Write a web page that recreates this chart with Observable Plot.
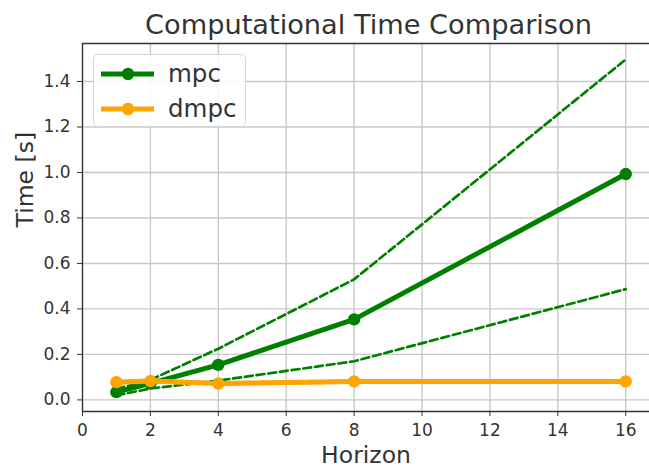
<!DOCTYPE html>
<html>
<head>
<meta charset="utf-8">
<script src="https://cdn.jsdelivr.net/npm/d3@7"></script>
<script src="https://cdn.jsdelivr.net/npm/@observablehq/plot@0.6"></script>
<style>
  html, body { margin: 0; padding: 0; background: #fff; }
  #chart { position: relative; width: 649px; height: 468px; overflow: hidden; font-family: "DejaVu Sans", sans-serif; }
  #legend {
    position: absolute; left: 93px; top: 54px; width: 153px; height: 73px;
    box-sizing: border-box; border: 1px solid #d6d6d6; border-radius: 5px;
    background: rgba(255,255,255,0.85);
  }
  #legend svg { position: absolute; left: 0; top: 0; }
</style>
</head>
<body>
<div id="chart"></div>
<script>
// Prediction horizon (steps) and mean solve time per horizon, with ±1 std bands
const horizon = [1, 2, 4, 8, 16];
const mpcMean  = [0.034, 0.073, 0.154, 0.354, 0.993];
const mpcUpper = [0.048, 0.088, 0.225, 0.530, 1.497];
const mpcLower = [0.020, 0.050, 0.085, 0.170, 0.487];
const dmpcMean  = [0.078, 0.083, 0.072, 0.081, 0.081];
const dmpcUpper = [0.082, 0.087, 0.076, 0.085, 0.085];
const dmpcLower = [0.074, 0.079, 0.068, 0.077, 0.077];

const xTicks = [0, 2, 4, 6, 8, 10, 12, 14, 16];
const yTicks = [0, 0.2, 0.4, 0.6, 0.8, 1.0, 1.2, 1.4];
const xDomain = [0, 16.7];
const yDomain = [-0.051, 1.567];

const seriesNames = ["mpc", "dmpc"];
const colors = {mpc: "green", dmpc: "orange"};

// long-format table: one row per (series, band, horizon)
function rows(name, band, values) {
  return horizon.map((h, i) => ({series: name, band, h, t: values[i]}));
}
const table = [
  ...rows("mpc", "mean", mpcMean), ...rows("mpc", "upper", mpcUpper), ...rows("mpc", "lower", mpcLower),
  ...rows("dmpc", "mean", dmpcMean), ...rows("dmpc", "upper", dmpcUpper), ...rows("dmpc", "lower", dmpcLower)
];
const pick = (s, b) => table.filter(d => d.series === s && d.band === b);

const ink = "#333333";
const marks = [
  Plot.gridX(xTicks, {stroke: "#c8c8c8", strokeOpacity: 1, strokeWidth: 1.4}),
  Plot.gridY(yTicks, {stroke: "#c8c8c8", strokeOpacity: 1, strokeWidth: 1.4}),
];
for (const s of seriesNames) {
  const c = colors[s];
  const dashed = {x: "h", y: "t", stroke: c, strokeWidth: 2.7, strokeDasharray: "8,3.8"};
  if (s === "mpc") {
    marks.push(Plot.line(pick(s, "upper"), dashed), Plot.line(pick(s, "lower"), dashed));
    marks.push(Plot.line(pick(s, "mean"), {x: "h", y: "t", stroke: c, strokeWidth: 5}));
  } else {
    marks.push(Plot.line(pick(s, "mean"), {x: "h", y: "t", stroke: c, strokeWidth: 5}));
    marks.push(Plot.line(pick(s, "upper"), dashed), Plot.line(pick(s, "lower"), dashed));
  }
  marks.push(Plot.dot(pick(s, "mean"), {x: "h", y: "t", r: 6.2, fill: c, stroke: "none"}));
}
marks.push(
  // spines: left, bottom, top
  Plot.ruleX([xDomain[0]], {stroke: ink, strokeWidth: 1.3}),
  Plot.ruleY([yDomain[0]], {stroke: ink, strokeWidth: 1.3}),
  Plot.ruleY([yDomain[1]], {stroke: ink, strokeWidth: 1.3}),
  Plot.axisX(xTicks, {tickSize: 5, tickPadding: 7, fontSize: 17, stroke: ink, fill: ink, label: null, tickFormat: d => String(d)}),
  Plot.axisY(yTicks, {tickSize: 5, tickPadding: 7, fontSize: 17, stroke: ink, fill: ink, label: null, tickFormat: d3.format(".1f")}),
  Plot.text(["Horizon"], {frameAnchor: "bottom", dy: 51, lineAnchor: "bottom", fontSize: 23.5, fill: ink}),
  Plot.text(["Time [s]"], {frameAnchor: "left", dx: -57, rotate: -90, lineAnchor: "middle", fontSize: 23.5, fill: ink}),
  Plot.text(["Computational Time Comparison"], {frameAnchor: "top", dx: 2.5, dy: -10, lineAnchor: "bottom", fontSize: 27.2, fill: ink})
);

const chart = Plot.plot({
  width: 649,
  height: 468,
  marginLeft: 82,
  marginRight: 0,
  marginTop: 43,
  marginBottom: 57,
  x: {domain: xDomain, axis: null},
  y: {domain: yDomain, axis: null},
  style: {fontFamily: "DejaVu Sans, sans-serif", color: ink, background: "#fff", overflow: "visible"},
  marks
});
const root = document.getElementById("chart");
root.appendChild(chart);

// legend box inside the plot area
const legend = document.createElement("div");
legend.id = "legend";
const ls = d3.create("svg").attr("width", 153).attr("height", 73);
seriesNames.forEach((s, i) => {
  const cy = 19 + i * 35;
  ls.append("line").attr("x1", 7).attr("x2", 60).attr("y1", cy).attr("y2", cy)
    .attr("stroke", colors[s]).attr("stroke-width", 5);
  ls.append("circle").attr("cx", 34).attr("cy", cy).attr("r", 6.2).attr("fill", colors[s]);
  ls.append("text").attr("x", 74).attr("y", cy + 8).attr("font-size", 24.5)
    .attr("font-family", "DejaVu Sans, sans-serif").attr("fill", ink).text(s);
});
legend.appendChild(ls.node());
root.appendChild(legend);
</script>
</body>
</html>
